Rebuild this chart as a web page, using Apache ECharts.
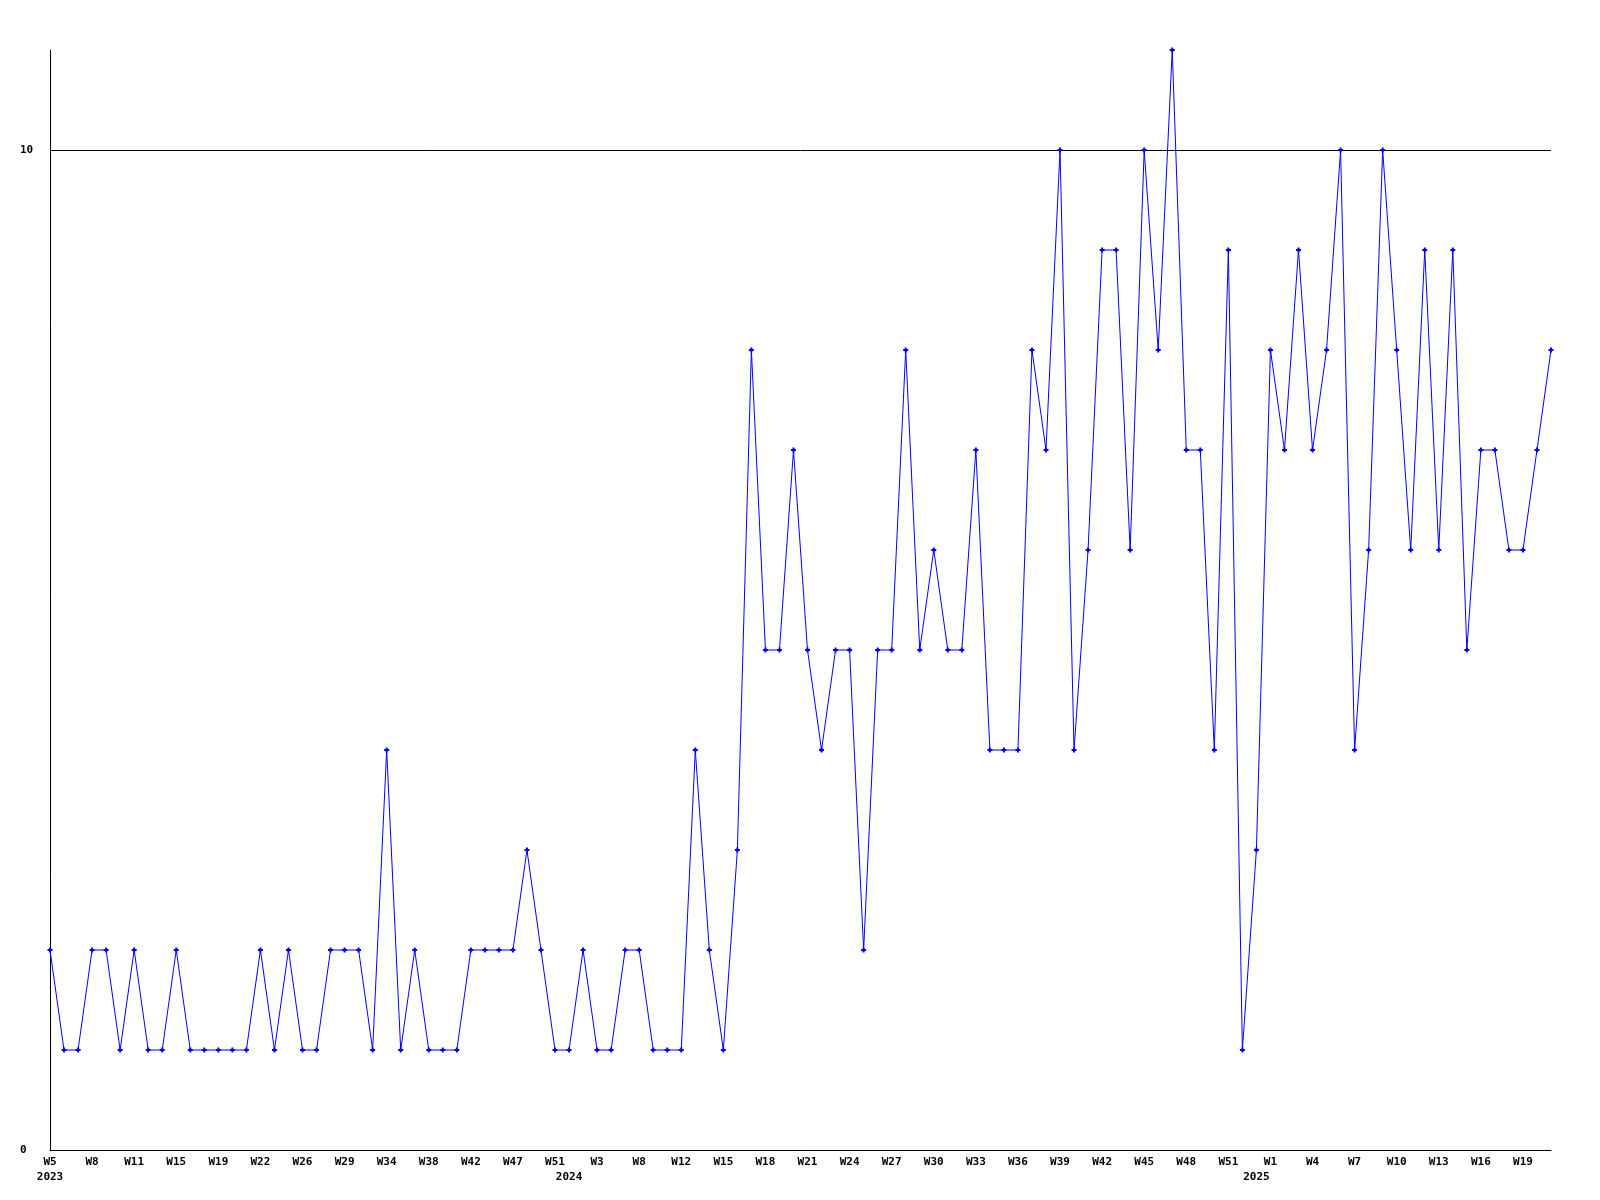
<!DOCTYPE html>
<html>
<head>
<meta charset="utf-8">
<script src="https://cdn.jsdelivr.net/npm/echarts@6/dist/echarts.min.js"></script>
<style>
html,body{margin:0;padding:0;background:#fff;}
#chart{width:1600px;height:1200px;}
</style>
</head>
<body>
<div id="chart"></div>
<script>
const weeks = [
  'W5','W6','W7','W8','W9','W10','W11','W12','W13','W15','W16','W17','W19','W20','W21','W22','W23','W24',
  'W26','W27','W28','W29','W30','W31','W34','W35','W36','W38','W39','W40','W42','W43','W44','W47','W48','W49',
  'W51','W1','W2','W3','W4','W5','W8','W9','W10','W12','W13','W14','W15','W16','W17','W18','W19','W20',
  'W21','W22','W23','W24','W25','W26','W27','W28','W29','W30','W31','W32','W33','W34','W35','W36','W37','W38',
  'W39','W40','W41','W42','W43','W44','W45','W46','W47','W48','W49','W50','W51','W52','W0','W1','W2','W3',
  'W4','W5','W6','W7','W8','W9','W10','W11','W12','W13','W14','W15','W16','W17','W18','W19','W20','W21'
];
const yearMarks = {0: '2023', 37: '2024', 86: '2025'};
const values = [
  2,1,1,2,2,1,2,1,1,2,1,1,1,1,1,2,1,2,
  1,1,2,2,2,1,4,1,2,1,1,1,2,2,2,2,3,2,
  1,1,2,1,1,2,2,1,1,1,4,2,1,3,8,5,5,7,
  5,4,5,5,2,5,5,8,5,6,5,5,7,4,4,4,8,7,
  10,4,6,9,9,6,10,8,11,7,7,4,9,1,3,8,7,9,
  7,8,10,4,6,10,8,6,9,6,9,5,7,7,6,6,7,8
];
const yTicks = {min: 0, max: 11, interval: 10};

const font = '"DejaVu Sans Mono", monospace';
const chart = echarts.init(document.getElementById('chart'), null, {renderer: 'canvas'});
chart.setOption({
  animation: false,
  backgroundColor: '#ffffff',
  grid: {left: 50, right: 49, top: 50, bottom: 50, containLabel: false},
  xAxis: [{
    type: 'category',
    data: weeks,
    boundaryGap: false,
    axisLine: {show: true, lineStyle: {color: '#000', width: 1}},
    axisTick: {show: false},
    splitLine: {show: false},
    axisLabel: {
      interval: 2,
      margin: 7,
      color: '#000',
      fontFamily: font,
      fontWeight: 'bold',
      fontSize: 11
    }
  }, {
    type: 'category',
    data: weeks,
    position: 'bottom',
    offset: 15,
    boundaryGap: false,
    axisLine: {show: false},
    axisTick: {show: false},
    splitLine: {show: false},
    axisLabel: {
      interval: 0,
      margin: 7,
      color: '#000',
      fontFamily: font,
      fontWeight: 'bold',
      fontSize: 11,
      formatter: function (v, i) { return yearMarks[i] || ''; }
    }
  }],
  yAxis: {
    type: 'value',
    min: yTicks.min,
    max: yTicks.max,
    interval: yTicks.interval,
    axisLine: {show: true, lineStyle: {color: '#000', width: 1}},
    axisTick: {show: false},
    splitLine: {show: true, lineStyle: {color: ['#000000', '#000000', 'rgba(0,0,0,0)'], width: 1}},
    axisLabel: {
      align: 'left',
      margin: 30,
      color: '#000',
      fontFamily: font,
      fontWeight: 'bold',
      fontSize: 11,
      showMaxLabel: false
    }
  },
  series: [{
    type: 'line',
    data: values,
    xAxisIndex: 0,
    lineStyle: {color: '#0000ff', width: 1},
    itemStyle: {color: '#0000ff'},
    symbol: 'path://M1.5,0H3.5V1.5H5V3.5H3.5V5H1.5V3.5H0V1.5H1.5Z',
    symbolSize: 5,
    showAllSymbol: true,
    emphasis: {disabled: true}
  }]
});
</script>
</body>
</html>
